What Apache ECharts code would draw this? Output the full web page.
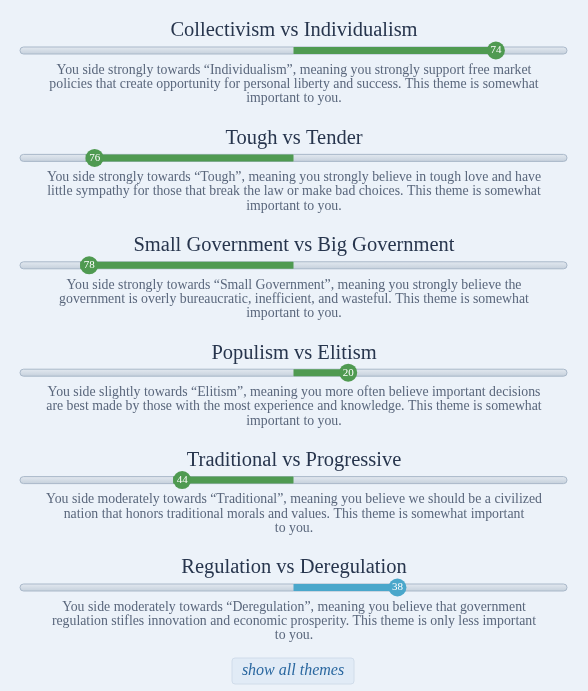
<!DOCTYPE html>
<html>
<head>
<meta charset="utf-8">
<script src="https://cdn.jsdelivr.net/npm/echarts@6/dist/echarts.min.js"></script>
<style>
html,body{margin:0;padding:0;background:#ecf2f9;}
#chart{width:588px;height:691px;}
</style>
</head>
<body>
<div id="chart"></div>
<script>
const themes = [
  'Collectivism vs Individualism',
  'Tough vs Tender',
  'Small Government vs Big Government',
  'Populism vs Elitism',
  'Traditional vs Progressive',
  'Regulation vs Deregulation'
];
// negative = towards left label, positive = towards right label
const scores = [74, -76, -78, 20, -44, 38];
const barColors = ['#4f9a51', '#4f9a51', '#4f9a51', '#4f9a51', '#4f9a51', '#4aa7cb'];
const descriptions = [
  'You side strongly towards \u201cIndividualism\u201d, meaning you strongly support free market\npolicies that create opportunity for personal liberty and success. This theme is somewhat\nimportant to you.',
  'You side strongly towards \u201cTough\u201d, meaning you strongly believe in tough love and have\nlittle sympathy for those that break the law or make bad choices. This theme is somewhat\nimportant to you.',
  'You side strongly towards \u201cSmall Government\u201d, meaning you strongly believe the\ngovernment is overly bureaucratic, inefficient, and wasteful. This theme is somewhat\nimportant to you.',
  'You side slightly towards \u201cElitism\u201d, meaning you more often believe important decisions\nare best made by those with the most experience and knowledge. This theme is somewhat\nimportant to you.',
  'You side moderately towards \u201cTraditional\u201d, meaning you believe we should be a civilized\nnation that honors traditional morals and values. This theme is somewhat important\nto you.',
  'You side moderately towards \u201cDeregulation\u201d, meaning you believe that government\nregulation stifles innovation and economic prosperity. This theme is only less important\nto you.'
];
const buttonLabel = 'show all themes';

const chart = echarts.init(document.getElementById('chart'), null, {renderer: 'canvas'});
const serif = '"Liberation Serif", "DejaVu Serif", Georgia, serif';
const grids = [], xAxes = [], yAxes = [], series = [], graphics = [];
const step = 107.4, firstTrack = 50.5;

themes.forEach((name, i) => {
  const ty = firstTrack + i * step;
  grids.push({left: 20, right: 21, top: ty - 10, height: 20});
  xAxes.push({type: 'value', gridIndex: i, min: -100, max: 100, show: false});
  yAxes.push({type: 'value', gridIndex: i, min: -1, max: 1, show: false});
  // track
  series.push({
    type: 'custom', xAxisIndex: i, yAxisIndex: i, silent: true,
    data: [[-100, 100]],
    renderItem: (params, api) => {
      const p0 = api.coord([api.value(0), 0]);
      const p1 = api.coord([api.value(1), 0]);
      return {
        type: 'rect',
        shape: {x: p0[0], y: p0[1] - 3.5, width: p1[0] - p0[0], height: 7, r: 3.5},
        style: {
          fill: new echarts.graphic.LinearGradient(0, 0, 0, 1, [
            {offset: 0, color: '#e4eaf1'}, {offset: 1, color: '#c4cfdb'}
          ]),
          stroke: '#a9b8c9', lineWidth: 1
        }
      };
    }
  });
  // fill from centre to score
  series.push({
    type: 'custom', xAxisIndex: i, yAxisIndex: i, silent: true,
    data: [[0, scores[i]]],
    renderItem: (params, api) => {
      const a = Math.min(api.value(0), api.value(1));
      const b = Math.max(api.value(0), api.value(1));
      const p0 = api.coord([a, 0]);
      const p1 = api.coord([b, 0]);
      return {
        type: 'rect',
        shape: {x: p0[0], y: p0[1] - 3.5, width: p1[0] - p0[0], height: 7},
        style: {fill: barColors[i]}
      };
    }
  });
  // marker
  series.push({
    type: 'scatter', xAxisIndex: i, yAxisIndex: i, silent: true,
    data: [[scores[i], 0]],
    symbol: 'circle', symbolSize: 18,
    symbolOffset: [scores[i] < 0 ? 9 : 0, 0],
    itemStyle: {color: barColors[i], opacity: 1},
    label: {
      show: true, position: 'inside',
      formatter: p => Math.abs(p.value[0]),
      color: '#ffffff', fontSize: 11, fontFamily: serif
    },
    z: 5
  });
  graphics.push({
    type: 'text', left: 'center', top: ty - 30,
    style: {text: name, font: '20.5px ' + serif, fill: '#27354d'}
  });
  graphics.push({
    type: 'text', x: 294, y: ty + 12.5,
    style: {
      text: descriptions[i], font: '13.8px ' + serif, fill: '#5a677c',
      textAlign: 'center', textVerticalAlign: 'top', lineHeight: 14.3
    }
  });
});

graphics.push({
  type: 'rect', shape: {x: 232, y: 658, width: 122, height: 26, r: 3},
  style: {fill: '#e1ebf6', stroke: '#d0dcea', lineWidth: 1}
});
graphics.push({
  type: 'text', x: 293, y: 671,
  style: {text: buttonLabel, font: 'italic 16px ' + serif, fill: '#2b68a0',
          textAlign: 'center', textVerticalAlign: 'middle'}
});

chart.setOption({
  backgroundColor: '#ecf2f9',
  animation: false,
  grid: grids, xAxis: xAxes, yAxis: yAxes,
  series: series,
  graphic: graphics
});
</script>
</body>
</html>
